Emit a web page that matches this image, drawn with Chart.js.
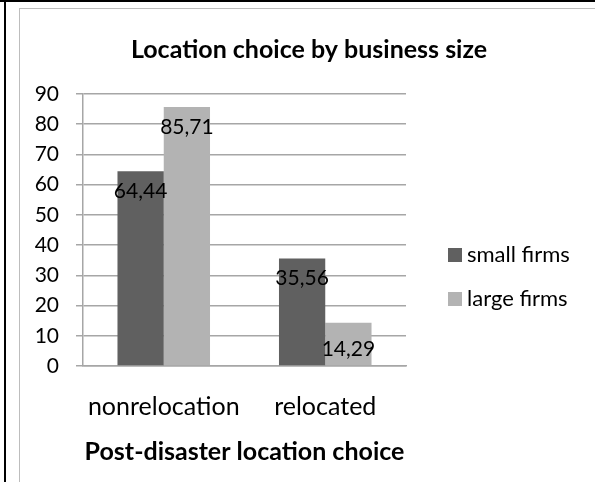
<!DOCTYPE html>
<html>
<head>
<meta charset="utf-8">
<script src="https://cdn.jsdelivr.net/npm/chart.js@4.4.1/dist/chart.umd.min.js"></script>
<style>
  html, body { margin: 0; padding: 0; background: #fff; }
  #wrap { position: relative; width: 595px; height: 482px; overflow: hidden; }
  .cellTop { position: absolute; left: 0; top: 0; width: 595px; height: 2px; background: #000; }
  .cellLeft { position: absolute; left: 4px; top: 0; width: 2px; height: 482px; background: #000; }
  .frameTop { position: absolute; left: 19px; top: 8px; width: 576px; height: 1px; background: #bdbdbd; }
  .frameLeft { position: absolute; left: 19px; top: 8px; width: 1px; height: 474px; background: #bdbdbd; }
  #chartBox { position: absolute; left: 0; top: 0; width: 595px; height: 482px; }
</style>
</head>
<body>
<div id="wrap">
  <div class="cellTop"></div>
  <div class="cellLeft"></div>
  <div class="frameTop"></div>
  <div class="frameLeft"></div>
  <div id="chartBox"><canvas id="locationChart"></canvas></div>
</div>
<script>
const categories = ['nonrelocation', 'relocated'];
const smallFirms = [64.44, 35.56];
const largeFirms = [85.71, 14.29];
const seriesNames = ['small firms', 'large firms'];

const FONT = 'Lato, "Open Sans", sans-serif';

// value labels inside the bar end, like the excel "inside end" option
const barLabels = {
  id: 'barLabels',
  afterDatasetsDraw(chart) {
    const ctx = chart.ctx;
    ctx.save();
    ctx.font = '21px ' + FONT;
    ctx.fillStyle = '#000';
    ctx.textAlign = 'center';
    ctx.textBaseline = 'middle';
    chart.data.datasets.forEach((ds, i) => {
      chart.getDatasetMeta(i).data.forEach((bar, j) => {
        let y = bar.y + 20;
        if (bar.base - bar.y < 60) y = bar.base - 16; // short bar: sit on the base
        ctx.fillText(ds.data[j].toFixed(2).replace('.', ','), bar.x, y);
      });
    });
    ctx.restore();
  }
};

// legend on the right, drawn by hand
const sideLegend = {
  id: 'sideLegend',
  afterDraw(chart) {
    const ctx = chart.ctx;
    const area = chart.chartArea;
    ctx.save();
    ctx.font = '22px ' + FONT;
    ctx.textBaseline = 'middle';
    chart.data.datasets.forEach((ds, i) => {
      const x = area.right + 42;
      const y = area.top + 161 + i * 44;
      ctx.fillStyle = ds.backgroundColor;
      ctx.fillRect(x, y - 7, 14, 14);
      ctx.fillStyle = '#000';
      ctx.fillText(ds.label, x + 19, y);
    });
    ctx.restore();
  }
};

new Chart(document.getElementById('locationChart'), {
  type: 'bar',
  data: {
    labels: categories,
    datasets: [
      { label: seriesNames[0], data: smallFirms, backgroundColor: '#606060' },
      { label: seriesNames[1], data: largeFirms, backgroundColor: '#b3b3b3' }
    ]
  },
  options: {
    responsive: true,
    maintainAspectRatio: false,
    animation: false,
    datasets: {
      bar: { categoryPercentage: 0.573, barPercentage: 1 }
    },
    layout: { padding: { left: 23, right: 0, top: 0, bottom: 0 } },
    plugins: {
      legend: { display: false },
      tooltip: { enabled: false },
      title: {
        display: true,
        text: 'Location choice by business size',
        color: '#000',
        font: { family: FONT, size: 25, weight: 'bold' },
        padding: { top: 35, bottom: 29 }
      }
    },
    scales: {
      x: {
        grid: { display: false, drawTicks: false },
        border: { display: true, color: '#a6a6a6', width: 1.5 },
        ticks: { color: '#000', font: { family: FONT, size: 25 }, padding: 26 },
        title: {
          display: true,
          text: 'Post-disaster location choice',
          color: '#000',
          font: { family: FONT, size: 25, weight: 'bold' },
          padding: { top: 0, bottom: 15 }
        },
        afterFit(scale) { scale.height = 116; }
      },
      y: {
        min: 0,
        max: 90,
        ticks: { stepSize: 10, color: '#000', font: { family: FONT, size: 21 }, padding: 17 },
        grid: { color: '#a6a6a6', lineWidth: 1.5, tickLength: 7 },
        border: { display: true, color: '#a6a6a6', width: 1.5 },
        afterFit(scale) { scale.width = 60; }
      },
      // empty scale that keeps room for the legend
      side: {
        type: 'linear',
        position: 'right',
        display: true,
        grid: { display: false, drawTicks: false },
        border: { display: false },
        ticks: { display: false },
        afterFit(scale) { scale.width = 189; }
      }
    }
  },
  plugins: [barLabels, sideLegend]
});
</script>
</body>
</html>
